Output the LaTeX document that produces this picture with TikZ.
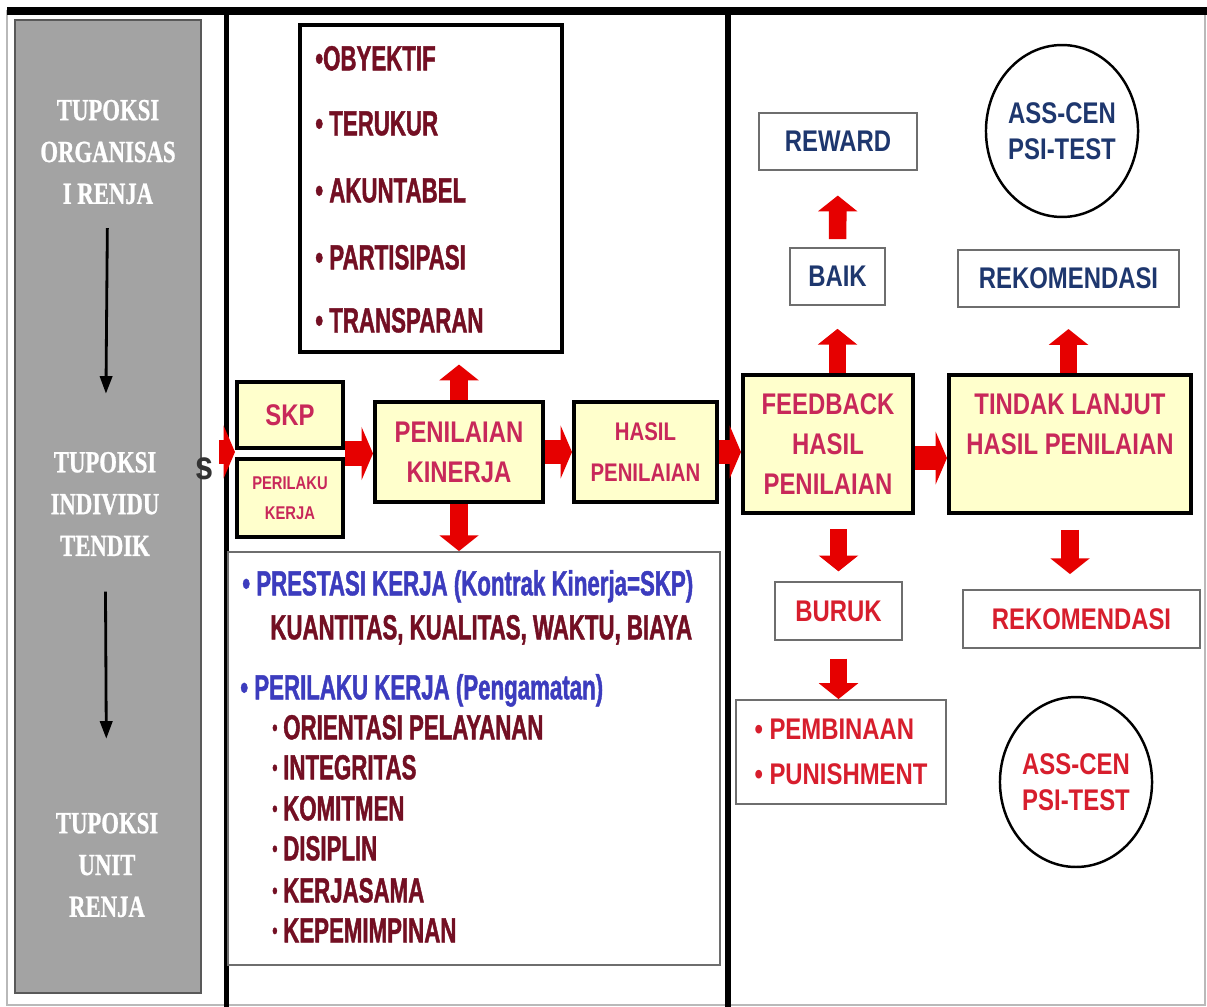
\documentclass[tikz,border=0pt]{standalone}
\usepackage{fontspec}
\usepackage{tikz}
\usetikzlibrary{shapes.geometric, arrows.meta, calc, positioning}

\newfontfamily\rmnarrow[FakeStretch=0.74, FakeBold=0.8]{Liberation Serif}
\newfontfamily\sfnarrow[FakeStretch=0.8]{Liberation Sans}
\newfontfamily\sfcond[FakeStretch=0.64, FakeBold=1.2]{Liberation Sans}

\definecolor{panelgrey}{RGB}{163,163,163}
\definecolor{boxyellow}{RGB}{255,255,204}
\definecolor{flowtext}{RGB}{200,40,90}
\definecolor{listred}{RGB}{115,15,35}
\definecolor{listblue}{RGB}{60,60,190}
\definecolor{navytext}{RGB}{30,55,110}
\definecolor{redtext}{RGB}{215,30,45}
\definecolor{arrowred}{RGB}{230,0,0}
\definecolor{thinframe}{RGB}{110,110,110}

\newcommand{\smallbullet}{\makebox[6.2pt][l]{\raisebox{2.2pt}{\fontsize{13}{13}\selectfont •}}}

\tikzset{
  flowbox/.style={draw, line width=2.3pt, fill=boxyellow, text=flowtext, align=center,
    inner sep=0pt, font=\sfnarrow\bfseries\fontsize{17}{22.7}\selectfont},
  outbox/.style={draw=thinframe, line width=1.1pt, fill=white, text=navytext, align=center,
    inner sep=0pt, font=\sfnarrow\bfseries\fontsize{17}{20.5}\selectfont},
  oval/.style={ellipse, draw, line width=1.4pt, align=center, inner sep=0pt,
    font=\sfnarrow\bfseries\fontsize{17}{20.5}\selectfont},
  tupoksi/.style={text=white, align=center, inner sep=0pt,
    font=\rmnarrow\bfseries\fontsize{17.5}{23.8}\selectfont},
  listitem/.style={anchor=west, inner sep=0pt, text height=14pt, text depth=0pt,
    font=\sfcond\bfseries\fontsize{19.8}{23}\selectfont},
  varrow/.style={draw=arrowred, line width=10pt, -{Triangle[length=9pt,width=22pt]}},
  harrow/.style={draw=arrowred, line width=14pt, -{Triangle[length=6.5pt,width=30pt]}},
  thinarrow/.style={line width=1.6pt, -{Triangle[length=10pt,width=7pt]}},
}

\begin{document}
\begin{tikzpicture}[x=0.02cm, y=-0.02cm]
\useasboundingbox (0,0) rectangle (1207,1007);
\fill[white] (0,0) rectangle (1207,1007);

% frame and columns
\draw[gray!55, line width=0.8pt] (7,11) rectangle (1205,1005);
\draw[fill=panelgrey, draw=gray!70!black, line width=0.8pt] (15,20) rectangle (201,993);
\draw[line width=4pt] (7,11) -- (1207,11);
\draw[line width=3.2pt] (226.5,11) -- (226.5,1007);
\draw[line width=3pt] (728,11) -- (728,1007);

% left column
\node[tupoksi] (org) at (108,152) {TUPOKSI\\ORGANISAS\\I RENJA};
\node[tupoksi] (ind) at (105,504) {TUPOKSI\\INDIVIDU\\TENDIK};
\node[tupoksi] (unit) at (107,865) {TUPOKSI\\UNIT\\RENJA};
\node[text=black!80, inner sep=0pt, font=\sfnarrow\bfseries\fontsize{23}{23}\selectfont] (potong) at (204,469) {s};

\draw[thinarrow, shorten <=13.5pt, shorten >=33pt] (org) -- (ind);
\draw[thinarrow, shorten <=20pt, shorten >=42pt] (ind) -- (unit);

% middle column
\node[draw, line width=2.3pt, fill=white, minimum width=5.24cm, minimum height=6.54cm, inner sep=0pt] (kriteria) at (431,188.5) {};
\node[listitem, text=listred] (obyektif) at (315,58) {•OBYEKTIF};
\node[listitem, text=listred] (terukur) at (315,123) {• TERUKUR};
\node[listitem, text=listred] (akuntabel) at (315,190) {• AKUNTABEL};
\node[listitem, text=listred] (partisipasi) at (315,257) {• PARTISIPASI};
\node[listitem, text=listred] (transparan) at (315,320) {• TRANSPARAN};

\node[flowbox, minimum width=2.12cm, minimum height=1.32cm] (skp) at (290,415) {SKP};
\node[flowbox, minimum width=2.12cm, minimum height=1.56cm, below=0.14cm of skp,
  font=\sfnarrow\bfseries\fontsize{10.5}{17}\selectfont] (perilaku) {PERILAKU\\KERJA};
\node[flowbox, minimum width=3.36cm, minimum height=2cm] (pk) at (459,452) {PENILAIAN\\KINERJA};
\node[flowbox, minimum width=2.86cm, minimum height=2cm, right=0.54cm of pk,
  font=\sfnarrow\bfseries\fontsize{14.5}{23.2}\selectfont] (hasil) {HASIL\\PENILAIAN};

\node[draw=thinframe, line width=1.1pt, minimum width=9.84cm, minimum height=8.26cm, inner sep=0pt] (indikator) at (474,758.5) {};
\node[listitem, text=listblue] (prestasi) at (242,583) {• PRESTASI KERJA (Kontrak Kinerja=SKP)};
\node[listitem, text=listred] (ukuran) at (270,627) {KUANTITAS, KUALITAS, WAKTU, BIAYA};
\node[listitem, text=listblue] (perilakukerja) at (240,687) {• PERILAKU KERJA (Pengamatan)};
\node[listitem, text=listred] (orientasi) at (272,727) {\smallbullet ORIENTASI PELAYANAN};
\node[listitem, text=listred] (integritas) at (272,767) {\smallbullet INTEGRITAS};
\node[listitem, text=listred] (komitmen) at (272,808) {\smallbullet KOMITMEN};
\node[listitem, text=listred] (disiplin) at (272,848) {\smallbullet DISIPLIN};
\node[listitem, text=listred] (kerjasama) at (272,890) {\smallbullet KERJASAMA};
\node[listitem, text=listred] (kepemimpinan) at (272,930) {\smallbullet KEPEMIMPINAN};

% right column
\node[flowbox, minimum width=3.4cm, minimum height=2.76cm] (feedback) at (828,444) {FEEDBACK\\HASIL\\PENILAIAN};
\node[flowbox, minimum width=4.84cm, minimum height=2.76cm, right=0.64cm of feedback] (tindak) {TINDAK LANJUT\\HASIL PENILAIAN\\\mbox{}};

\node[outbox, minimum width=3.16cm, minimum height=1.14cm] (reward) at (838,141.5) {REWARD};
\node[outbox, minimum width=1.9cm, minimum height=1.14cm] (baik) at (837.5,276.5) {BAIK};
\node[outbox, minimum width=4.42cm, minimum height=1.14cm] (rekom) at (1068.5,278.5) {REKOMENDASI};
\node[oval, text=navytext, minimum width=2.66cm, minimum height=3.44cm] (asscen) at (1062,131) {ASS-CEN\\PSI-TEST};

\node[outbox, text=redtext, minimum width=2.54cm, minimum height=1.16cm] (buruk) at (838.5,611) {BURUK};
\node[outbox, text=redtext, minimum width=4.74cm, minimum height=1.16cm] (rekomlanjut) at (1081.5,619) {REKOMENDASI};
\node[outbox, text=redtext, minimum width=4.2cm, minimum height=2.08cm, align=left,
  font=\sfnarrow\bfseries\fontsize{17}{25.5}\selectfont] (sanksi) at (841,752) {• PEMBINAAN\\• PUNISHMENT};
\node[oval, text=redtext, minimum width=2.78cm, minimum height=3.4cm] (asscenb) at (1076,782) {ASS-CEN\\PSI-TEST};

% red block arrows
\coordinate (join) at ($(skp.south east)!0.5!(perilaku.north east)$);
\coordinate (entry) at (219,452);
\draw[harrow] (entry) -- (entry -| skp.west);
\draw[harrow] (join) -- (join -| pk.west);
\draw[harrow] (pk.east) -- (hasil.west);
\draw[harrow] (hasil.east) -- (hasil.east -| feedback.west);
\draw[harrow] ([yshift=-8pt]feedback.east) -- ([yshift=-8pt]tindak.west);

\draw[varrow, shorten >=6pt] (pk.north) -- (pk.north |- kriteria.south);
\draw[varrow] (pk.south) -- (pk.south |- indikator.north);
\draw[varrow, shorten >=13pt] (baik.south |- feedback.north) -- (baik.south);
\draw[varrow, shorten <=4.5pt, shorten >=14pt] (baik) -- (reward);
\draw[varrow, shorten >=12pt] (rekom.south |- tindak.north) -- (rekom.south);
\draw[varrow, shorten <=8pt, shorten >=5.5pt] (buruk.north |- feedback.south) -- (buruk.north);
\draw[varrow, shorten <=8.5pt, shorten >=8.5pt] (tindak.south) -- (tindak.south |- rekomlanjut.north);
\draw[varrow, shorten <=10pt] (buruk.south) -- (buruk.south |- sanksi.north);
\end{tikzpicture}
\end{document}
